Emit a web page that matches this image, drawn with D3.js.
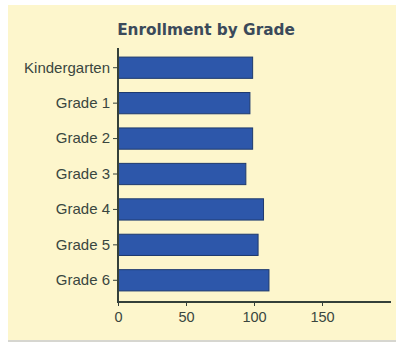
<!DOCTYPE html>
<html><head><meta charset="utf-8">
<script src="https://cdn.jsdelivr.net/npm/d3@7"></script>
<style>body{margin:0;background:#fff;}svg{display:block;}</style>
</head><body>
<script>
const categories = ["Kindergarten","Grade 1","Grade 2","Grade 3","Grade 4","Grade 5","Grade 6"];
const enrollment = [99, 97, 99, 94, 107, 103, 111];
const xTicks = [0, 50, 100, 150];
const titleText = "Enrollment by Grade";

const W = 396, H = 344;
const svg = d3.select("body").append("svg").attr("width", W).attr("height", H);
svg.append("rect").attr("x", 8).attr("y", 5).attr("width", 388).attr("height", 335).attr("fill", "#fdf6cc");
svg.append("line").attr("x1", 8).attr("x2", 396).attr("y1", 341).attr("y2", 341).attr("stroke", "#d6d6d0").attr("stroke-width", 2);

const x = d3.scaleLinear().domain([0, 200]).range([118, 390]);
const y = d3.scaleBand().domain(categories).range([50, 298]).paddingInner(0.4).paddingOuter(0.2);

svg.append("text").attr("x", 206).attr("y", 35).attr("text-anchor", "middle")
  .attr("font-family", "DejaVu Sans").attr("font-weight", "bold").attr("font-size", 15.3)
  .attr("fill", "#3b4a5a").text(titleText);

svg.selectAll("rect.bar").data(enrollment).enter().append("rect").attr("class", "bar")
  .attr("x", x(0)).attr("y", (d, i) => y(categories[i]))
  .attr("width", d => x(d) - x(0)).attr("height", y.bandwidth())
  .attr("fill", "#2d57aa").attr("stroke", "#1e3a6e").attr("stroke-width", 1);

const axisColor = "#34403a";
const yAxis = svg.append("g").attr("transform", `translate(${x(0)},0)`)
  .call(d3.axisLeft(y).tickSize(5).tickPadding(3));
yAxis.select(".domain").remove();
yAxis.selectAll("line").attr("stroke", axisColor);
yAxis.selectAll("text").attr("font-family", "Liberation Sans, Arial").attr("font-size", 15).attr("fill", "#3a4640");

const xAxis = svg.append("g").attr("transform", "translate(0,302)")
  .call(d3.axisBottom(x).tickValues(xTicks).tickSize(4).tickPadding(6));
xAxis.select(".domain").remove();
xAxis.selectAll("line").attr("stroke", axisColor);
xAxis.selectAll("text").attr("font-family", "Liberation Sans, Arial").attr("font-size", 14.5).attr("fill", "#3a4640");

svg.append("line").attr("x1", x(0)).attr("x2", x(0)).attr("y1", 48).attr("y2", 303)
  .attr("stroke", axisColor).attr("stroke-width", 2);
svg.append("line").attr("x1", x(0) - 1).attr("x2", 391).attr("y1", 302).attr("y2", 302)
  .attr("stroke", axisColor).attr("stroke-width", 2);
</script>
</body></html>
